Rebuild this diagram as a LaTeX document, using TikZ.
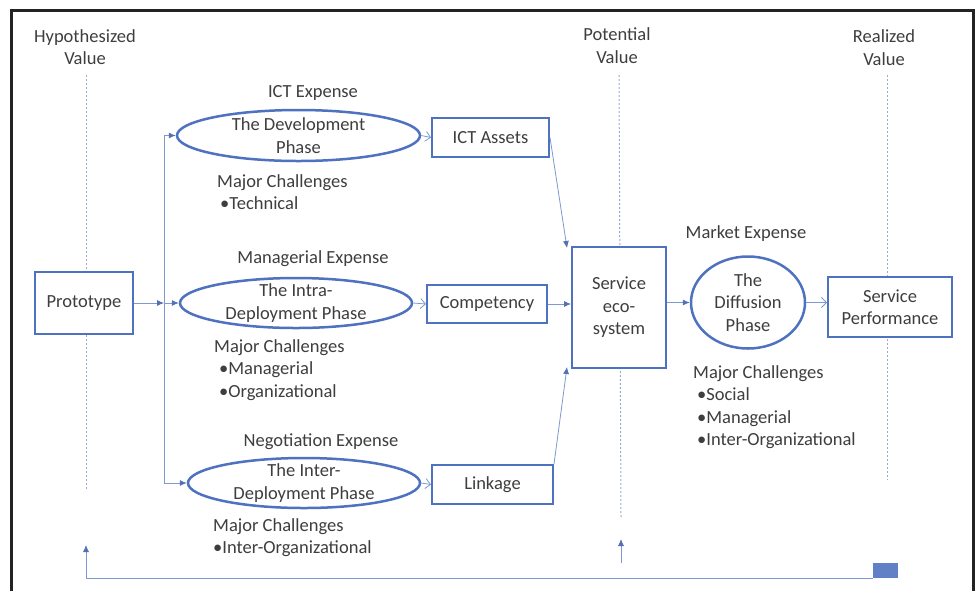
\documentclass[tikz,border=0pt]{standalone}
\usepackage{fontspec}
\setmainfont{Carlito}
\usetikzlibrary{shapes.geometric,arrows.meta}
\definecolor{boxblue}{RGB}{79,114,192}
\definecolor{linkblue}{RGB}{125,153,208}
\definecolor{headblue}{RGB}{82,112,180}
\definecolor{dotblue}{RGB}{150,170,212}
\definecolor{txt}{RGB}{62,62,62}
\definecolor{framec}{RGB}{35,35,35}
\begin{document}
\begin{tikzpicture}[x=1pt,y=-1pt,
  font=\fontsize{18.5}{22.5}\selectfont, text=txt,
  boxnode/.style={draw=boxblue,line width=2pt,fill=white,rectangle,inner sep=0pt,align=center},
  ellnode/.style={draw=boxblue,line width=2.5pt,fill=white,ellipse,inner sep=0pt},
  ttl/.style={align=center,inner sep=0pt,anchor=base},
  lbl/.style={inner sep=0pt,anchor=base},
  chal/.style={align=left,inner sep=0pt,anchor=base west},
  vline/.style={dotblue,line width=1pt,dash pattern=on 2pt off 2pt},
  conn/.style={linkblue,line width=0.8pt},
  solidarr/.style={conn,-{Latex[length=7pt,width=6pt,color=headblue]}},
  openarr/.style={conn,-{Straight Barb[length=5pt,width=10pt,line width=0.8pt]}}
]
\useasboundingbox (0,0) rectangle (976,590);
\clip (0,0) rectangle (976,590);
\fill[white] (0,0) rectangle (976,590);
% frame
\draw[framec,line width=3pt] (11.5,600) |- (973,10.5) -- (973,600);

% value column labels (anchored at the baseline of their last line)
\node[ttl] (hyp) at (85,64.5) {Hypothesized\\Value};
\node[ttl] (pot) at (617,63) {Potential\\Value};
\node[ttl] (rea) at (884,65) {Realized\\Value};

% dotted vertical lines
\coordinate (hypT) at (86,75);  \coordinate (hypB) at (86,490);
\coordinate (potT) at (619,75); \coordinate (potB) at (621,518);
\coordinate (reaT) at (887,75); \coordinate (reaB) at (887,480);
\draw[vline] (hypT) -- (hypB);
\draw[vline] (potT) -- (potB);
\draw[vline] (reaT) -- (reaB);

% nodes
\node[boxnode,minimum width=98pt,minimum height=62pt] (proto) at (84,303) {Prototype};
\node[ellnode,minimum width=243pt,minimum height=51pt,
  label={[align=center,inner sep=0pt]center:The Development\\Phase}] (dev) at (298.5,135.5) {};
\node[ellnode,minimum width=232pt,minimum height=50pt,
  label={[align=center,inner sep=0pt]center:The Intra-\\Deployment Phase}] (intra) at (296,303) {};
\node[ellnode,minimum width=232pt,minimum height=50pt,
  label={[align=center,inner sep=0pt]center:The Inter-\\Deployment Phase}] (inter) at (304,483) {};
\node[boxnode,minimum width=117pt,minimum height=39pt] (ict) at (490.5,137.5) {ICT Assets};
\node[boxnode,minimum width=120pt,minimum height=38pt] (comp) at (487,304) {Competency};
\node[boxnode,minimum width=121pt,minimum height=39pt] (link) at (492.5,484.5) {Linkage};
\node[boxnode,minimum width=94pt,minimum height=121pt] (svc) at (619,307.5) {Service\\eco-\\system};
\node[ellnode,minimum width=114pt,minimum height=92pt,
  label={[align=center,inner sep=0pt]center:The\\Diffusion\\Phase}] (diff) at (748,302.5) {};
\node[boxnode,minimum width=124pt,minimum height=60pt] (perf) at (890,307) {Service\\Performance};

% expense labels
\node[lbl] (e1) at (313,97) {ICT Expense};
\node[lbl] (e2) at (313,263) {Managerial Expense};
\node[lbl] (e3) at (321,446) {Negotiation Expense};
\node[lbl] (e4) at (746,238) {Market Expense};

% challenges (anchored at the baseline of their last line)
\node[chal] (c1) at (217,209.5) {Major Challenges\\\hspace{3pt}•Technical};
\node[chal] (c2) at (214,397) {Major Challenges\\\hspace{5pt}•Managerial\\\hspace{5pt}•Organizational};
\node[chal] (c3) at (213,553.5) {Major Challenges\\•Inter-Organizational};
\node[chal] (c4) at (693,445.5) {Major Challenges\\\hspace{4pt}•Social\\\hspace{4pt}•Managerial\\\hspace{4pt}•Inter-Organizational};

% branching connectors
\coordinate (split) at (164,303);
\coordinate (vtop) at (164,135.5);
\coordinate (vbot) at (164,483);
\draw[conn] (vtop) -- (vbot);
\draw[solidarr] (proto.east) -- (split);
\draw[solidarr] (vtop) -- (dev.west);
\draw[solidarr] (split) -- (intra.west);
\draw[solidarr] (vbot) -- (inter.west);

\draw[openarr] (dev.east) -- (ict.west);
\draw[openarr] (intra.east) -- (comp.west);
\draw[openarr] (inter.east) -- (link.west);

\draw[solidarr] (ict.east) -- ([xshift=-4pt,yshift=-2pt]svc.north west);
\draw[solidarr] (comp.east) -- (comp.east -| svc.west);
\draw[solidarr] (link.north east) -- ([xshift=-4pt,yshift=2pt]svc.south west);
\draw[solidarr] (svc.east |- diff.west) -- (diff.west);
\draw[openarr] (diff.east) -- (diff.east -| perf.west);

% bottom feedback line
\coordinate (bl) at (86,578);
\coordinate (br) at (873,578);
\coordinate (blup) at (86,545);
\coordinate (pbot) at (621,563);
\coordinate (pup) at (621,539);
\draw[conn] (bl) -- (br);
\draw[solidarr] (bl) -- (blup);
\draw[solidarr] (pbot) -- (pup);
\fill[boxblue!90] (873,563) rectangle (898,578);
\end{tikzpicture}
\end{document}
